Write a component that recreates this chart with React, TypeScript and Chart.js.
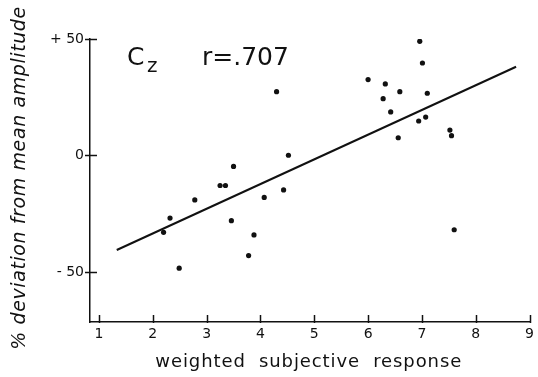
import React, { useEffect, useRef } from "react";
import { Chart, registerables } from "chart.js";

Chart.register(...registerables);

const xValues = [2.2, 2.32, 2.49, 2.78, 3.25, 3.35, 3.46, 3.5, 3.78, 3.88, 4.07, 4.3, 4.43, 4.52, 6.0, 6.28, 6.32, 6.42, 6.56, 6.59, 6.94, 6.96, 7.01, 7.07, 7.1, 7.52, 7.55, 7.6];
const yValues = [-33.0, -26.9, -48.4, -19.1, -12.9, -12.9, -28.0, -4.7, -43.0, -34.1, -18.0, 27.4, -14.8, 0.1, 32.6, 24.4, 30.7, 18.7, 7.6, 27.4, 14.8, 49.0, 39.7, 16.5, 26.7, 10.9, 8.5, -31.9];
const fitX = [1.33, 8.75];
const fitY = [-40.6, 38.1];
const xTickValues = [1, 2, 3, 4, 5, 6, 7, 8, 9];
const yTickValues = [-50, 0, 50];
const yTickLabels = ["- 50", "0", "+ 50"];
const xTitle = "weighted  subjective  response";
const yTitle = "% deviation from mean amplitude";
const electrode = "C";
const electrodeSub = "z";
const rLabel = "r=.707";

const FONT = "'DejaVu Sans', sans-serif";
const INK = "#111";

const decorPlugin = {
  id: "decor",
  afterDraw(chart: any) {
    const ctx = chart.ctx as CanvasRenderingContext2D;
    const xs = chart.scales.x;
    const ys = chart.scales.y;
    const area = chart.chartArea;
    ctx.save();
    ctx.strokeStyle = INK;
    ctx.lineWidth = 1.5;
    // x tick marks (inward)
    for (const v of xTickValues) {
      const px = Math.round(xs.getPixelForValue(v)) + 0.5;
      ctx.beginPath();
      ctx.moveTo(px, area.bottom + 1);
      ctx.lineTo(px, area.bottom - 7);
      ctx.stroke();
    }
    // y tick marks (crossing)
    for (const v of yTickValues) {
      const py = Math.round(ys.getPixelForValue(v)) + 0.5;
      ctx.beginPath();
      ctx.moveTo(area.left - 5, py);
      ctx.lineTo(area.left + 7, py);
      ctx.stroke();
    }
    ctx.fillStyle = INK;
    // annotation
    ctx.textBaseline = "alphabetic";
    ctx.textAlign = "left";
    ctx.font = `25px ${FONT}`;
    ctx.fillText(electrode, 127, 65);
    ctx.font = `20px ${FONT}`;
    ctx.fillText(electrodeSub, 147, 72);
    ctx.font = `25px ${FONT}`;
    ctx.fillText(rLabel, 202, 65);
    // x title
    ctx.font = `18px ${FONT}`;
    (ctx as any).letterSpacing = "0.9px";
    ctx.textAlign = "center";
    ctx.fillText(xTitle, (area.left + area.right) / 2 - 1, 367);
    // y title
    ctx.translate(25, 178);
    ctx.rotate(-Math.PI / 2);
    ctx.font = `italic 19px ${FONT}`;
    (ctx as any).letterSpacing = "0.6px";
    ctx.fillText(yTitle, 0, 0);
    ctx.restore();
  },
};

export default function App() {
  const ref = useRef<HTMLCanvasElement>(null);
  useEffect(() => {
    if (!ref.current) return;
    const chart = new Chart(ref.current, {
      type: "scatter",
      data: {
        datasets: [
          {
            type: "line",
            data: fitX.map((x, i) => ({ x, y: fitY[i] })),
            borderColor: INK,
            borderWidth: 2,
            pointRadius: 0,
            fill: false,
          } as any,
          {
            type: "scatter",
            data: xValues.map((x, i) => ({ x, y: yValues[i] })),
            backgroundColor: INK,
            borderColor: INK,
            pointRadius: 2.6,
            borderWidth: 0,
          },
        ],
      },
      options: {
        animation: false,
        responsive: true,
        maintainAspectRatio: false,
        layout: { padding: { left: 0, right: 7, top: 39, bottom: 0 } },
        plugins: { legend: { display: false }, tooltip: { enabled: false } },
        scales: {
          x: {
            type: "linear",
            min: 0.833,
            max: 9,
            afterBuildTicks: (s: any) => {
              s.ticks = xTickValues.map((v) => ({ value: v }));
            },
            afterFit: (s: any) => {
              s.height = 55;
            },
            grid: { display: true, drawOnChartArea: false, drawTicks: false },
            border: { display: true, color: INK, width: 1.5 },
            ticks: {
              padding: 4,
              color: INK,
              font: { family: FONT, size: 14 },
              callback: (v: any) => String(v),
            },
          },
          y: {
            type: "linear",
            min: -71.5,
            max: 50,
            afterBuildTicks: (s: any) => {
              s.ticks = yTickValues.map((v) => ({ value: v }));
            },
            afterFit: (s: any) => {
              s.width = 90;
            },
            grid: { display: true, drawOnChartArea: false, drawTicks: false },
            border: { display: true, color: INK, width: 1.5 },
            ticks: {
              padding: 6,
              color: INK,
              font: { family: FONT, size: 14 },
              callback: (v: any) => yTickLabels[yTickValues.indexOf(Number(v))] ?? "",
            },
          },
        },
      },
      plugins: [decorPlugin],
    });
    return () => chart.destroy();
  }, []);
  return (
    <div style={{ position: "fixed", left: 0, top: 0, width: 538, height: 377, background: "#fff" }}>
      <canvas ref={ref} />
    </div>
  );
}
